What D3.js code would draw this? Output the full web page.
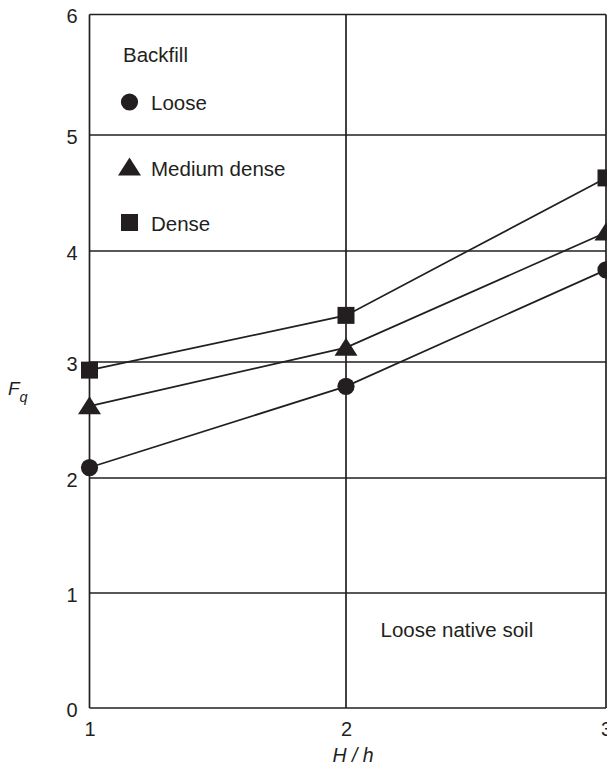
<!DOCTYPE html>
<html><head><meta charset="utf-8">
<script src="https://cdn.jsdelivr.net/npm/d3@7"></script>
<style>body{margin:0;background:#fff}svg{display:block}text{font-family:"Liberation Sans",Arial,sans-serif;fill:#231f20}</style>
</head><body>
<script>
const xValues = [1, 2, 3];
const looseValues = [2.09, 2.79, 3.83];
const mediumValues = [2.62, 3.13, 4.16];
const denseValues = [2.93, 3.42, 4.63];
const yTicks = [0, 1, 2, 3, 4, 5, 6];
const xTicks = [1, 2, 3];
const seriesNames = ["Loose", "Medium dense", "Dense"];
const seriesShapes = ["circle", "triangle", "square"];

const W = 607, H = 767;
const ink = "#231f20";
const svg = d3.select("body").append("svg").attr("width", W).attr("height", H);
const x = d3.scaleLinear().domain([1, 2, 3]).range([89.5, 346, 606]);
// scanned figure: grid spacing is slightly uneven, follow it
const y = d3.scaleLinear().domain(yTicks).range([708, 593, 478, 362, 251, 135, 14.5]);

// grid
svg.append("g").selectAll("line").data(yTicks).join("line")
  .attr("x1", x(1)).attr("x2", x(3)).attr("y1", d => y(d)).attr("y2", d => y(d))
  .attr("stroke", ink).attr("stroke-width", 1.7);
svg.append("g").selectAll("line").data(xTicks).join("line")
  .attr("x1", d => x(d)).attr("x2", d => x(d)).attr("y1", y(0)).attr("y2", y(6))
  .attr("stroke", ink).attr("stroke-width", 1.7);

// axes labels
const yAxis = d3.axisLeft(y).tickValues(yTicks).tickSize(0).tickPadding(12).tickFormat(d3.format("d"));
const gy = svg.append("g").attr("transform", `translate(${x(1)},2)`).call(yAxis);
gy.select(".domain").remove();
gy.selectAll("text").style("font-size", "20px").attr("fill", ink).attr("font-family", "Liberation Sans, Arial, sans-serif");
const xAxis = d3.axisBottom(x).tickValues(xTicks).tickSize(0).tickPadding(14).tickFormat(d3.format("d"));
const gx = svg.append("g").attr("transform", `translate(0,${y(0)})`).call(xAxis);
gx.select(".domain").remove();
gx.selectAll("text").style("font-size", "20px").attr("fill", ink).attr("font-family", "Liberation Sans, Arial, sans-serif");

// axis titles
const xt = svg.append("text").attr("x", 353).attr("y", 762).attr("text-anchor", "middle")
  .style("font-size", "19.5px").style("font-style", "italic");
xt.text("H / h");
const yt = svg.append("text").attr("x", 8).attr("y", 395).style("font-size", "19px").style("font-style", "italic");
yt.append("tspan").text("F");
yt.append("tspan").attr("dy", 7).style("font-size", "14.5px").text("q");

// series
const series = [looseValues, mediumValues, denseValues];
const line = d3.line().x((d, i) => x(xValues[i])).y(d => y(d));
const sym = {
  circle: d3.symbol(d3.symbolCircle, Math.PI * 8.6 * 8.6),
  square: d3.symbol(d3.symbolSquare, 17 * 17),
};
function triPath(w, h) { return `M0,${-h*0.55}L${w/2},${h*0.45}L${-w/2},${h*0.45}Z`; }
function shapePath(s) { return s === "triangle" ? triPath(23, 18) : sym[s](); }

series.forEach((vals, k) => {
  svg.append("path").datum(vals).attr("d", line).attr("fill", "none").attr("stroke", ink).attr("stroke-width", 1.7);
  svg.append("g").selectAll("path").data(vals).join("path")
    .attr("transform", (d, i) => `translate(${x(xValues[i])},${y(d)})`)
    .attr("d", shapePath(seriesShapes[k])).attr("fill", ink);
});

// legend
svg.append("text").attr("x", 123).attr("y", 62).style("font-size", "20.5px").text("Backfill");
const legY = [102, 167.5, 222.5];
seriesNames.forEach((n, k) => {
  svg.append("path").attr("transform", `translate(129.5,${legY[k]})`).attr("d", shapePath(seriesShapes[k])).attr("fill", ink);
  svg.append("text").attr("x", 151).attr("y", legY[k] + 8).style("font-size", "20.5px").text(n);
});

svg.append("text").attr("x", 380.5).attr("y", 637).style("font-size", "20.5px").text("Loose native soil");
</script>
</body></html>
